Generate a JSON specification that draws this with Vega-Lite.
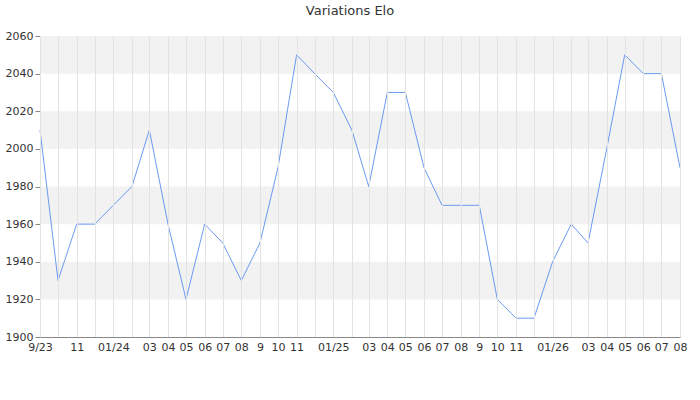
{
  "$schema": "https://vega.github.io/schema/vega-lite/v6.json",
  "width": 640,
  "height": 301,
  "autosize": {"type": "none"},
  "padding": {"left": 40, "top": 36, "right": 20, "bottom": 63},
  "background": "white",
  "title": {
    "text": "Variations Elo",
    "font": "DejaVu Sans",
    "fontSize": 13,
    "fontWeight": "normal",
    "color": "#333333",
    "anchor": "middle",
    "offset": 12,
    "dx": -10
  },
  "config": {
    "view": {"stroke": null},
    "axis": {"labelFont": "DejaVu Sans", "labelFontSize": 11, "labelColor": "#333333", "labelOverlap": false},
    "axisY": {
      "title": null,
      "zindex": 1,
      "values": [1900, 1910, 1920, 1930, 1940, 1950, 1960, 1970, 1980, 1990, 2000, 2010, 2020, 2030, 2040, 2050, 2060],
      "labelExpr": "datum.value % 20 == 0 ? format(datum.value, 'd') : ''",
      "labelFlush": false,
      "tickSize": 5,
      "tickColor": "#888888",
      "domainColor": "#888888",
      "grid": true,
      "gridColor": "#e3e3e3",
      "gridOpacity": {"condition": {"test": "datum.value % 20 == 0", "value": 1}, "value": 0}
    }
  },
  "datasets": {
    "bands": [
      {"lo": 1920, "hi": 1940},
      {"lo": 1960, "hi": 1980},
      {"lo": 2000, "hi": 2020},
      {"lo": 2040, "hi": 2060}
    ],
    "elo": [
      {"date": "2023-09-01", "elo": 2010},
      {"date": "2023-10-01", "elo": 1930},
      {"date": "2023-11-01", "elo": 1960},
      {"date": "2023-12-01", "elo": 1960},
      {"date": "2024-01-01", "elo": 1970},
      {"date": "2024-02-01", "elo": 1980},
      {"date": "2024-03-01", "elo": 2010},
      {"date": "2024-04-01", "elo": 1960},
      {"date": "2024-05-01", "elo": 1920},
      {"date": "2024-06-01", "elo": 1960},
      {"date": "2024-07-01", "elo": 1950},
      {"date": "2024-08-01", "elo": 1930},
      {"date": "2024-09-01", "elo": 1950},
      {"date": "2024-10-01", "elo": 1990},
      {"date": "2024-11-01", "elo": 2050},
      {"date": "2024-12-01", "elo": 2040},
      {"date": "2025-01-01", "elo": 2030},
      {"date": "2025-02-01", "elo": 2010},
      {"date": "2025-03-01", "elo": 1980},
      {"date": "2025-04-01", "elo": 2030},
      {"date": "2025-05-01", "elo": 2030},
      {"date": "2025-06-01", "elo": 1990},
      {"date": "2025-07-01", "elo": 1970},
      {"date": "2025-08-01", "elo": 1970},
      {"date": "2025-09-01", "elo": 1970},
      {"date": "2025-10-01", "elo": 1920},
      {"date": "2025-11-01", "elo": 1910},
      {"date": "2025-12-01", "elo": 1910},
      {"date": "2026-01-01", "elo": 1940},
      {"date": "2026-02-01", "elo": 1960},
      {"date": "2026-03-01", "elo": 1950},
      {"date": "2026-04-01", "elo": 2000},
      {"date": "2026-05-01", "elo": 2050},
      {"date": "2026-06-01", "elo": 2040},
      {"date": "2026-07-01", "elo": 2040},
      {"date": "2026-08-01", "elo": 1990}
    ]
  },
  "layer": [
    {
      "data": {"name": "bands"},
      "mark": {"type": "rect", "color": "#f2f2f2"},
      "encoding": {
        "y": {"field": "lo", "type": "quantitative", "scale": {"domain": [1900, 2060], "nice": false, "zero": false}},
        "y2": {"field": "hi"}
      }
    },
    {
      "data": {"name": "elo"},
      "mark": {"type": "line", "color": "#5a8ff0", "strokeWidth": 0.9},
      "encoding": {
        "x": {
          "field": "date",
          "type": "temporal",
          "scale": {"type": "utc", "nice": false, "padding": 0},
          "axis": {
            "title": null,
            "zindex": 1,
            "values": [
              {"year": 2023, "month": 9, "date": 1, "utc": true},
              {"year": 2023, "month": 10, "date": 1, "utc": true},
              {"year": 2023, "month": 11, "date": 1, "utc": true},
              {"year": 2023, "month": 12, "date": 1, "utc": true},
              {"year": 2024, "month": 1, "date": 1, "utc": true},
              {"year": 2024, "month": 2, "date": 1, "utc": true},
              {"year": 2024, "month": 3, "date": 1, "utc": true},
              {"year": 2024, "month": 4, "date": 1, "utc": true},
              {"year": 2024, "month": 5, "date": 1, "utc": true},
              {"year": 2024, "month": 6, "date": 1, "utc": true},
              {"year": 2024, "month": 7, "date": 1, "utc": true},
              {"year": 2024, "month": 8, "date": 1, "utc": true},
              {"year": 2024, "month": 9, "date": 1, "utc": true},
              {"year": 2024, "month": 10, "date": 1, "utc": true},
              {"year": 2024, "month": 11, "date": 1, "utc": true},
              {"year": 2024, "month": 12, "date": 1, "utc": true},
              {"year": 2025, "month": 1, "date": 1, "utc": true},
              {"year": 2025, "month": 2, "date": 1, "utc": true},
              {"year": 2025, "month": 3, "date": 1, "utc": true},
              {"year": 2025, "month": 4, "date": 1, "utc": true},
              {"year": 2025, "month": 5, "date": 1, "utc": true},
              {"year": 2025, "month": 6, "date": 1, "utc": true},
              {"year": 2025, "month": 7, "date": 1, "utc": true},
              {"year": 2025, "month": 8, "date": 1, "utc": true},
              {"year": 2025, "month": 9, "date": 1, "utc": true},
              {"year": 2025, "month": 10, "date": 1, "utc": true},
              {"year": 2025, "month": 11, "date": 1, "utc": true},
              {"year": 2025, "month": 12, "date": 1, "utc": true},
              {"year": 2026, "month": 1, "date": 1, "utc": true},
              {"year": 2026, "month": 2, "date": 1, "utc": true},
              {"year": 2026, "month": 3, "date": 1, "utc": true},
              {"year": 2026, "month": 4, "date": 1, "utc": true},
              {"year": 2026, "month": 5, "date": 1, "utc": true},
              {"year": 2026, "month": 6, "date": 1, "utc": true},
              {"year": 2026, "month": 7, "date": 1, "utc": true},
              {"year": 2026, "month": 8, "date": 1, "utc": true}
            ],
            "labelExpr": "utcyear(datum.value) == 2023 && utcmonth(datum.value) == 8 ? '9/23' : (utcyear(datum.value) == 2023 && utcmonth(datum.value) == 9) || utcmonth(datum.value) == 11 || utcmonth(datum.value) == 1 ? '' : utcmonth(datum.value) == 0 ? utcFormat(datum.value, '%m/%y') : utcmonth(datum.value) == 8 ? '9' : utcFormat(datum.value, '%m')",
            "labelFlush": false,
            "labelPadding": 4,
            "ticks": false,
            "grid": true,
            "gridColor": "#e3e3e3",
            "domainColor": "#888888"
          }
        },
        "y": {
          "field": "elo",
          "type": "quantitative",
          "scale": {"domain": [1900, 2060], "nice": false, "zero": false}
        }
      }
    }
  ]
}
